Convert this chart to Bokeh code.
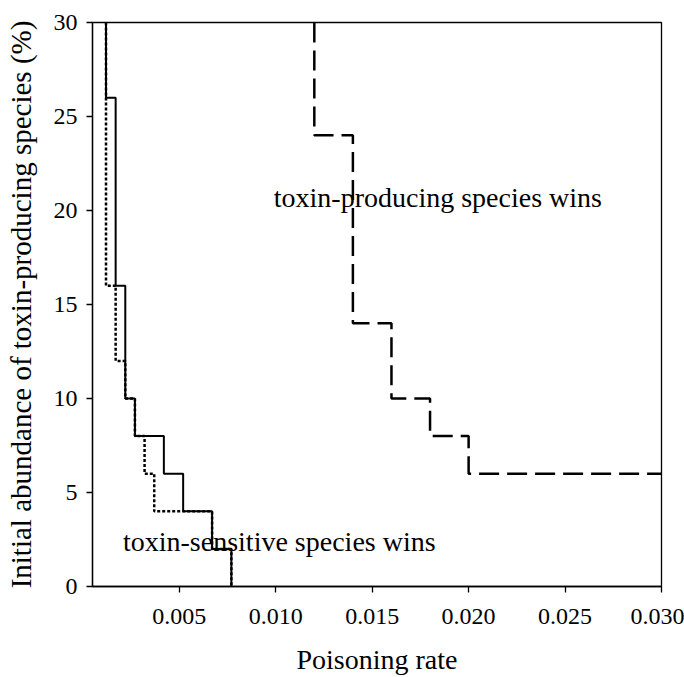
from bokeh.plotting import figure
from bokeh.models import FixedTicker, NumeralTickFormatter, Range1d, Label
from bokeh.embed import file_html
from bokeh.resources import INLINE

# ---- data ----
# toxin-sensitive wins region boundary, solid curve: threshold rates and abundance levels
solid_rate = [0.0012, 0.0017, 0.0022, 0.0027, 0.0042, 0.0052, 0.0067, 0.0077]
solid_abund = [30, 26, 16, 10, 8, 6, 4, 2, 0]
# dotted curve
dotted_rate = [0.0012, 0.0017, 0.0022, 0.0027, 0.0032, 0.0037, 0.0067, 0.0077]
dotted_abund = [30, 16, 12, 10, 8, 6, 4, 2, 0]
# toxin-producing wins region boundary, dashed curve
dashed_rate = [0.012, 0.014, 0.016, 0.018, 0.020]
dashed_abund = [30, 24, 14, 10, 8, 6]

x_ticks = [0.005, 0.010, 0.015, 0.020, 0.025, 0.030]
y_ticks = [0, 5, 10, 15, 20, 25, 30]
x_min, x_max = 0.0005, 0.030
y_min, y_max = 0, 30


def staircase(rates, abund, x_end=None):
    xs, ys = [], []
    for i, r in enumerate(rates):
        xs += [r, r]
        ys += [abund[i], abund[i + 1]]
    if x_end is not None:
        xs.append(x_end)
        ys.append(abund[-1])
    return xs, ys


FONT = "Liberation Serif"

p = figure(width=684, height=677, output_backend="svg", toolbar_location=None,
           x_range=Range1d(x_min, x_max), y_range=Range1d(y_min, y_max),
           min_border_left=92, min_border_right=23, min_border_top=22, min_border_bottom=90)
p.background_fill_color = "white"
p.border_fill_color = "white"
p.outline_line_color = "black"
p.outline_line_width = 1.3
p.xgrid.visible = False
p.ygrid.visible = False

xs, ys = staircase(dotted_rate, dotted_abund)
p.line(xs, ys, line_color="black", line_width=2.5, line_dash="3 2")
xs, ys = staircase(solid_rate, solid_abund)
p.line(xs, ys, line_color="black", line_width=2)
xs, ys = staircase(dashed_rate, dashed_abund, x_end=x_max)
p.line(xs, ys, line_color="black", line_width=2.5, line_dash="20 8")

for ax in (p.xaxis[0], p.yaxis[0]):
    ax.axis_line_color = "black"
    ax.axis_line_width = 1.3
    ax.major_tick_line_color = "black"
    ax.major_tick_line_width = 1.3
    ax.major_tick_out = 6
    ax.major_tick_in = 0
    ax.minor_tick_line_color = None
    ax.major_label_text_font = FONT
    ax.major_label_text_font_size = "24px"
    ax.major_label_text_color = "black"
    ax.axis_label_text_font = FONT
    ax.axis_label_text_font_size = "28px"
    ax.axis_label_text_font_style = "normal"
    ax.axis_label_text_color = "black"

p.xaxis[0].ticker = FixedTicker(ticks=x_ticks)
p.xaxis[0].formatter = NumeralTickFormatter(format="0.000")
p.xaxis[0].major_label_standoff = 16
p.xaxis[0].axis_label = "Poisoning rate"
p.xaxis[0].axis_label_standoff = 17

p.yaxis[0].ticker = FixedTicker(ticks=y_ticks)
p.yaxis[0].major_label_standoff = 9
p.yaxis[0].axis_label = "Initial abundance of toxin-producing species (%)"
p.yaxis[0].axis_label_text_font_size = "29px"
p.yaxis[0].axis_label_standoff = 14

p.add_layout(Label(x=0.0099, y=20.7, text="toxin-producing species wins",
                   text_font=FONT, text_font_size="28px", text_color="black",
                   text_baseline="alphabetic"))
p.add_layout(Label(x=0.00208, y=2.4, text="toxin-sensitive species wins",
                   text_font=FONT, text_font_size="28px", text_color="black",
                   text_baseline="alphabetic"))

open("out.html", "w").write(file_html(p, INLINE))
